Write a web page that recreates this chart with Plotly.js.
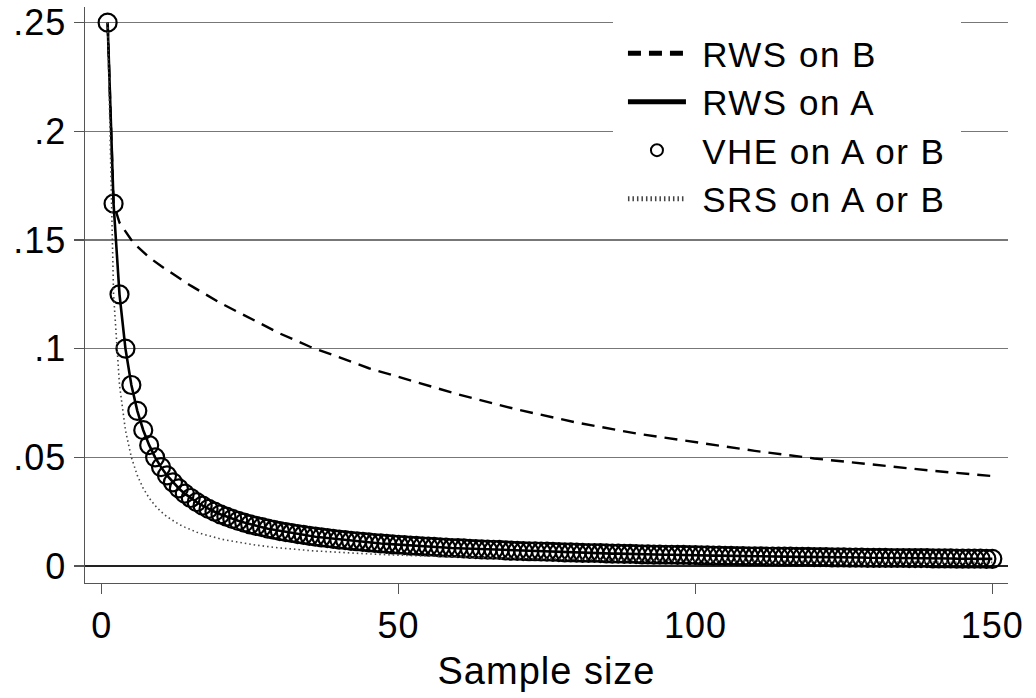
<!DOCTYPE html>
<html>
<head>
<meta charset="utf-8">
<script src="https://cdn.plot.ly/plotly-3.0.1.min.js"></script>
<style>
  html, body { margin: 0; padding: 0; background: #fff; }
  #chart { width: 1036px; height: 698px; }
  .legendtext { letter-spacing: 1.5px; }
  .xtick text, .ytick text { letter-spacing: 1px; }
  .xtitle { letter-spacing: 1px; }
</style>
</head>
<body>
<div id="chart"></div>
<script>
// Sample sizes
const sampleSize = [1,2,3,4,5,6,7,8,9,10,11,12,13,14,15,16,17,18,19,20,21,22,23,24,25,26,27,28,29,30,
31,32,33,34,35,36,37,38,39,40,41,42,43,44,45,46,47,48,49,50,51,52,53,54,55,56,57,58,59,60,
61,62,63,64,65,66,67,68,69,70,71,72,73,74,75,76,77,78,79,80,81,82,83,84,85,86,87,88,89,90,
91,92,93,94,95,96,97,98,99,100,101,102,103,104,105,106,107,108,109,110,111,112,113,114,115,116,117,118,119,120,
121,122,123,124,125,126,127,128,129,130,131,132,133,134,135,136,137,138,139,140,141,142,143,144,145,146,147,148,149,150];

// VHE on A or B (circles) and RWS on A (solid line)
const vheValues = [.25,.1667,.125,.1,.0833,.0714,.0625,.0556,.05,.0455,.0417,.0385,.0357,.0333,.0313,.0294,.0278,.0263,.025,.0238,
.0227,.0217,.0208,.02,.0192,.0185,.0179,.0172,.0167,.0161,.0156,.0152,.0147,.0143,.0139,.0135,.0132,.0128,.0125,.0122,
.0119,.0116,.0114,.0111,.0109,.0106,.0104,.0102,.01,.0098,.0096,.0094,.0093,.0091,.0089,.0088,.0086,.0085,.0083,.0082,
.0081,.0079,.0078,.0077,.0076,.0075,.0074,.0072,.0071,.007,.0069,.0068,.0068,.0067,.0066,.0065,.0064,.0063,.0063,.0062,
.0061,.006,.006,.0059,.0058,.0057,.0057,.0056,.0056,.0055,.0054,.0054,.0053,.0053,.0052,.0052,.0051,.0051,.005,.005,
.0049,.0049,.0048,.0048,.0047,.0047,.0046,.0046,.0045,.0045,.0045,.0044,.0044,.0043,.0043,.0043,.0042,.0042,.0042,.0041,
.0041,.0041,.004,.004,.004,.0039,.0039,.0039,.0038,.0038,.0038,.0038,.0037,.0037,.0037,.0036,.0036,.0036,.0036,.0035,
.0035,.0035,.0035,.0034,.0034,.0034,.0034,.0034,.0033,.0033];
const rwsAValues = vheValues.slice();

// SRS on A or B (dotted)
const srsValues = [.25,.125,.0833,.0625,.05,.0417,.0357,.0313,.0278,.025,.0227,.0208,.0192,.0179,.0167,.0156,.0147,.0139,.0132,.0125,
.0119,.0114,.0109,.0104,.01,.0096,.0093,.0089,.0086,.0083,.0081,.0078,.0076,.0074,.0071,.0069,.0068,.0066,.0064,.0063,
.0061,.006,.0058,.0057,.0056,.0054,.0053,.0052,.0051,.005,.0049,.0048,.0047,.0046,.0045,.0045,.0044,.0043,.0042,.0042,
.0041,.004,.004,.0039,.0038,.0038,.0037,.0037,.0036,.0036,.0035,.0035,.0034,.0034,.0033,.0033,.0032,.0032,.0032,.0031,
.0031,.003,.003,.003,.0029,.0029,.0029,.0028,.0028,.0028,.0027,.0027,.0027,.0027,.0026,.0026,.0026,.0026,.0025,.0025,
.0025,.0025,.0024,.0024,.0024,.0024,.0023,.0023,.0023,.0023,.0023,.0022,.0022,.0022,.0022,.0022,.0021,.0021,.0021,.0021,
.0021,.002,.002,.002,.002,.002,.002,.002,.0019,.0019,.0019,.0019,.0019,.0019,.0019,.0018,.0018,.0018,.0018,.0018,
.0018,.0018,.0017,.0017,.0017,.0017,.0017,.0017,.0017,.0017];

// RWS on B (dashed)
const rwsBSizes  = [1,2,3,4,5,6,8,10,15,20,25,30,35,40,45,50,60,70,80,90,100,110,120,130,140,150];
const rwsBValues = [.25,.1667,.158,.154,.150,.147,.142,.138,.129,.121,.114,.107,.101,.096,.091,.087,.079,.072,.066,.061,.057,.053,.0495,.0465,.0438,.0414];

// Axis ticks
const xTickVals = [0,50,100,150];
const xTickText = ['0','50','100','150'];
const yTickVals = [0,.05,.1,.15,.2,.25];
const yTickText = ['0','.05','.1','.15','.2','.25'];

// Legend labels
const seriesNames = ['RWS on B','RWS on A','VHE on A or B','SRS on A or B'];

const FONT = 'Liberation Sans, Arial, Helvetica, sans-serif';
const NB = '\u00a0';

const traces = [
  { x: rwsBSizes, y: rwsBValues, name: NB + seriesNames[0], mode: 'lines', legendgroup: 'a',
    line: { color: '#000', width: 2.4, dash: '13px,8px' } },
  { x: sampleSize, y: rwsAValues, name: NB + seriesNames[1], mode: 'lines', legendgroup: 'b',
    line: { color: '#000', width: 2.6 } },
  { x: sampleSize, y: vheValues, name: NB + seriesNames[2], mode: 'markers', legendgroup: 'c',
    marker: { symbol: 'circle-open', size: 18, color: '#000', line: { color: '#000', width: 2.2 } } },
  { x: sampleSize, y: srsValues, name: NB + seriesNames[3], mode: 'lines', legendgroup: 'd',
    line: { color: '#444', width: 1.6, dash: '1.5px,3px' } }
];

const layout = {
  width: 1036, height: 698,
  margin: { l: 85, r: 28, t: 7, b: 115, pad: 0 },
  paper_bgcolor: '#fff', plot_bgcolor: '#fff',
  font: { family: FONT, color: '#000', size: 35 },
  showlegend: true,
  legend: {
    x: 0.572, y: 0.988, xanchor: 'left', yanchor: 'top',
    bgcolor: '#fff', bordercolor: '#fff', borderwidth: 10,
    font: { family: FONT, size: 35, color: '#000' },
    itemwidth: 58, itemsizing: 'constant',
    traceorder: 'grouped', tracegroupgap: 0
  },
  shapes: [
    { type: 'rect', xref: 'paper', yref: 'paper', layer: 'between',
      x0: 0.574, x1: 0.989, y0: 0.609, y1: 0.995,
      fillcolor: '#fff', line: { width: 0 } }
  ],
  xaxis: {
    range: [-2.81, 152.64], tickmode: 'array', tickvals: xTickVals, ticktext: xTickText,
    showgrid: false, zeroline: false,
    showline: true, linecolor: '#555', linewidth: 1.4,
    ticks: 'outside', ticklen: 10, tickwidth: 1.4, tickcolor: '#555',
    tickfont: { family: FONT, size: 36, color: '#000' },
    title: { text: 'Sample size', font: { family: FONT, size: 38, color: '#000' }, standoff: 13 }
  },
  yaxis: {
    range: [-0.0078, 0.2572], tickmode: 'array', tickvals: yTickVals, ticktext: yTickText,
    showgrid: true, gridcolor: '#777', gridwidth: 1.4,
    zeroline: true, zerolinecolor: '#222', zerolinewidth: 1.4,
    showline: true, linecolor: '#555', linewidth: 1.4,
    ticks: 'outside', ticklen: 10, tickwidth: 1.4, tickcolor: '#555',
    tickfont: { family: FONT, size: 36, color: '#000' }
  }
};

Plotly.newPlot('chart', traces, layout, { staticPlot: true, displayModeBar: false });
</script>
</body>
</html>
